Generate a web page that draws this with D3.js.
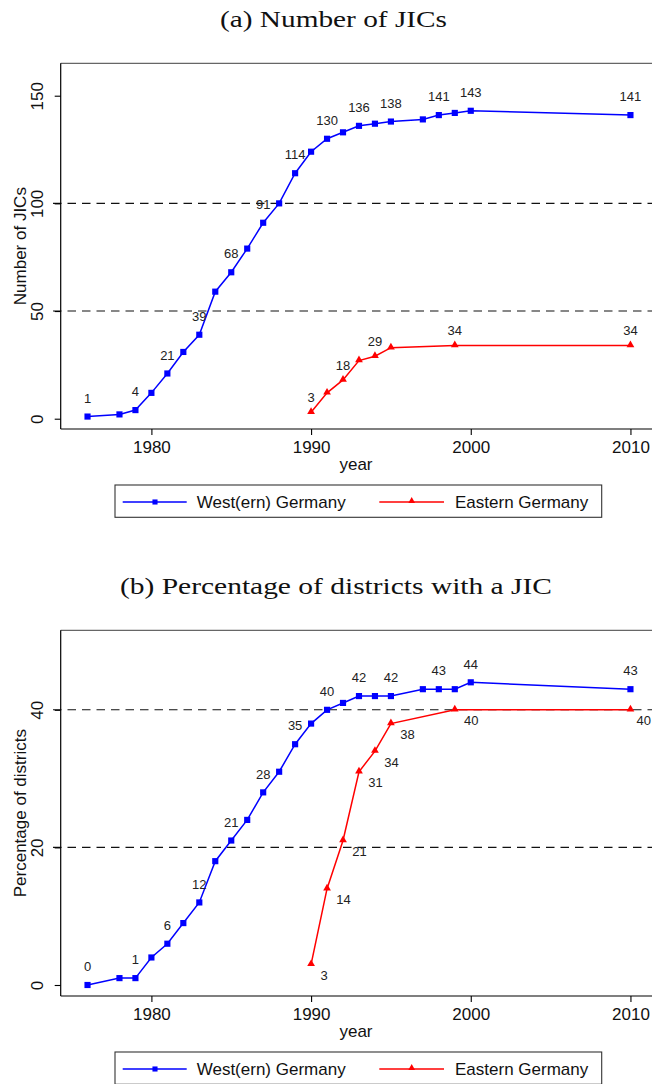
<!DOCTYPE html>
<html>
<head>
<meta charset="utf-8">
<script src="https://cdn.jsdelivr.net/npm/d3@7"></script>
<style>
  html, body { margin: 0; padding: 0; background: #fff; }
  svg { display: block; }
</style>
</head>
<body>
<svg id="chart" width="652" height="1084"></svg>
<script>
// ---------------- DATA ----------------
const yearsWest = [1976,1978,1979,1980,1981,1982,1983,1984,1985,1986,1987,1988,1989,1990,1991,1992,1993,1994,1995,1997,1998,1999,2000,2010];
const yearsEast = [1990,1991,1992,1993,1994,1995,1999,2010];

const jicsWest = [1,2,4,12,21,31,39,59,68,79,91,100,114,124,130,133,136,137,138,139,141,142,143,141];
const jicsEast = [3,12,18,27,29,33,34,34];

const pctWest = [0,1,1,4,6,9,12,18,21,24,28,31,35,38,40,41,42,42,42,43,43,43,44,43];
const pctEast = [3,14,21,31,34,38,40,40];

// years whose value is printed as a marker label
const labelYearsWest = [1976,1979,1981,1983,1985,1987,1989,1991,1993,1995,1998,2000,2010];
const labelYearsEastA = [1990,1992,1994,1999,2010];
const labelYearsEastB = [1990,1991,1992,1993,1994,1995,1999,2010];

const xTicks = [1980,1990,2000,2010];
const yTicksA = [0,50,100,150];
const yTicksB = [0,20,40];
const refLinesA = [50,100];
const refLinesB = [20,40];

const titles = ["(a) Number of JICs", "(b) Percentage of districts with a JIC"];
const yTitles = ["Number of JICs", "Percentage of districts"];
const seriesNames = ["West(ern) Germany", "Eastern Germany"];
const xTitle = "year";

// ---------------- DRAW ----------------
const svg = d3.select("#chart");
const BLUE = "#0000ff", RED = "#ff0000";
const SANS = "'Liberation Sans', Arial, Helvetica, sans-serif";
const SERIF = "'Liberation Serif', 'Times New Roman', serif";
const W = 652;

const xScale = d3.scaleLinear().domain([1974.32, 2011.35]).range([60.7, 652]);

const sqSym = d3.symbol().type(d3.symbolSquare).size(38);
const triSym = d3.symbol().type(d3.symbolTriangle).size(26);

function panel(cfg) {
  const g = svg.append("g").attr("transform", `translate(0,${cfg.off})`);
  const top = 63.3, bottom = 429;
  const y = d3.scaleLinear().domain(cfg.ydomain).range([bottom, top]);

  // title
  g.append("text")
    .attr("x", cfg.titleX).attr("y", 26.7)
    .attr("font-family", SERIF).attr("font-size", 24)
    .attr("textLength", cfg.titleW).attr("lengthAdjust", "spacingAndGlyphs")
    .attr("fill", "#111")
    .text(cfg.title);

  // frame top line (gray)
  g.append("line").attr("x1", 60.7).attr("x2", 652).attr("y1", top).attr("y2", top)
    .attr("stroke", "#666").attr("stroke-width", 1.2);

  // reference dashed lines
  g.selectAll(".ref").data(cfg.refs).enter().append("line")
    .attr("x1", 53).attr("x2", 652)
    .attr("y1", d => y(d)).attr("y2", d => y(d))
    .attr("stroke", "#111").attr("stroke-width", 1.1)
    .attr("stroke-dasharray", "8.5,6");

  // y axis
  const yAxis = d3.axisLeft(y).tickValues(cfg.yticks).tickSize(6).tickPadding(4);
  const ya = g.append("g").attr("transform", "translate(60.7,0)").call(yAxis);
  ya.select(".domain").attr("d", `M0,${top}V${bottom}`).attr("stroke", "#000").attr("stroke-width", 1.2);
  ya.selectAll(".tick line").attr("stroke", "#000").attr("stroke-width", 1.1);
  ya.selectAll(".tick text")
    .attr("font-family", SANS).attr("font-size", 17).attr("fill", "#111")
    .attr("text-anchor", "middle")
    .attr("x", null).attr("dy", null)
    .attr("transform", "translate(-17.7,0) rotate(-90)");

  // x axis
  const xAxis = d3.axisBottom(xScale).tickValues(xTicks).tickFormat(d3.format("d")).tickSize(6).tickPadding(5);
  const xa = g.append("g").attr("transform", `translate(0,${bottom})`).call(xAxis);
  xa.select(".domain").attr("d", `M60.7,0H652`).attr("stroke", "#000").attr("stroke-width", 1.2);
  xa.selectAll(".tick line").attr("stroke", "#000").attr("stroke-width", 1.1);
  xa.selectAll(".tick text").attr("font-family", SANS).attr("font-size", 17).attr("fill", "#111")
    .attr("dy", null).attr("y", 23.7);

  // axis titles
  g.append("text")
    .attr("transform", `translate(25.5,${(top + bottom) / 2}) rotate(-90)`)
    .attr("text-anchor", "middle")
    .attr("font-family", SANS).attr("font-size", 17).attr("fill", "#111")
    .text(cfg.ytitle);
  g.append("text")
    .attr("x", 356).attr("y", 470)
    .attr("text-anchor", "middle")
    .attr("font-family", SANS).attr("font-size", 17).attr("fill", "#111")
    .text(xTitle);

  const line = d3.line().x(d => xScale(d.year)).y(d => y(d.v));

  const west = yearsWest.map((yr, i) => ({ year: yr, v: cfg.west[i] }));
  const east = yearsEast.map((yr, i) => ({ year: yr, v: cfg.east[i] }));

  // lines
  g.append("path").datum(west).attr("d", line)
    .attr("fill", "none").attr("stroke", BLUE).attr("stroke-width", 1.5);
  g.append("path").datum(east).attr("d", line)
    .attr("fill", "none").attr("stroke", RED).attr("stroke-width", 1.5);

  // markers
  g.selectAll(".mw").data(west).enter().append("path")
    .attr("d", sqSym)
    .attr("transform", d => `translate(${xScale(d.year)},${y(d.v)})`)
    .attr("fill", BLUE);
  g.selectAll(".me").data(east).enter().append("path")
    .attr("d", triSym)
    .attr("transform", d => `translate(${xScale(d.year)},${y(d.v) - 0.5})`)
    .attr("fill", RED);

  // labels
  g.selectAll(".lw").data(west.filter(d => labelYearsWest.includes(d.year))).enter().append("text")
    .attr("x", d => xScale(d.year)).attr("y", d => y(d.v) - 13.8)
    .attr("text-anchor", "middle")
    .attr("font-family", SANS).attr("font-size", 13).attr("fill", "#222")
    .text(d => d.v);

  const eastLab = east.filter(d => cfg.eastLabels.includes(d.year));
  if (cfg.eastBelow) {
    g.selectAll(".le").data(eastLab).enter().append("text")
      .attr("x", d => xScale(d.year) + 9.3)
      .attr("y", d => y(d.v) + 15.6)
      .attr("text-anchor", "start")
      .attr("font-family", SANS).attr("font-size", 13).attr("fill", "#222")
      .text(d => d.v)
      .each(function () {
        // keep the label inside the page
        const bb = this.getBBox();
        if (bb.x + bb.width > W - 1) d3.select(this).attr("x", W - 1 - bb.width);
      });
  } else {
    g.selectAll(".le").data(eastLab).enter().append("text")
      .attr("x", d => xScale(d.year)).attr("y", d => y(d.v) - 10)
      .attr("text-anchor", "middle")
      .attr("font-family", SANS).attr("font-size", 13).attr("fill", "#222")
      .text(d => d.v);
  }

  // legend
  const lg = g.append("g");
  lg.append("rect").attr("x", 115).attr("y", 485).attr("width", 486.7).attr("height", 32.3)
    .attr("fill", "#fff").attr("stroke", "#333").attr("stroke-width", 1.1);
  lg.append("line").attr("x1", 122.7).attr("x2", 186.7).attr("y1", 502).attr("y2", 502)
    .attr("stroke", BLUE).attr("stroke-width", 1.3);
  lg.append("path").attr("d", d3.symbol().type(d3.symbolSquare).size(26))
    .attr("transform", "translate(155,502)").attr("fill", BLUE);
  lg.append("text").attr("x", 196.7).attr("y", 508).attr("font-family", SANS).attr("font-size", 17)
    .attr("fill", "#111").text(seriesNames[0]);
  lg.append("line").attr("x1", 379.3).attr("x2", 444).attr("y1", 502).attr("y2", 502)
    .attr("stroke", RED).attr("stroke-width", 1.3);
  lg.append("path").attr("d", d3.symbol().type(d3.symbolTriangle).size(20))
    .attr("transform", "translate(411.7,501)").attr("fill", RED);
  lg.append("text").attr("x", 455).attr("y", 508).attr("font-family", SANS).attr("font-size", 17)
    .attr("fill", "#111").text(seriesNames[1]);
}

panel({
  off: 0, title: titles[0], titleX: 220, titleW: 227,
  ydomain: [-4.78, 165.05], yticks: yTicksA, refs: refLinesA, ytitle: yTitles[0],
  west: jicsWest, east: jicsEast, eastLabels: labelYearsEastA, eastBelow: false
});
panel({
  off: 567, title: titles[1], titleX: 120, titleW: 432,
  ydomain: [-1.6, 51.56], yticks: yTicksB, refs: refLinesB, ytitle: yTitles[1],
  west: pctWest, east: pctEast, eastLabels: labelYearsEastB, eastBelow: true
});
</script>
</body>
</html>
